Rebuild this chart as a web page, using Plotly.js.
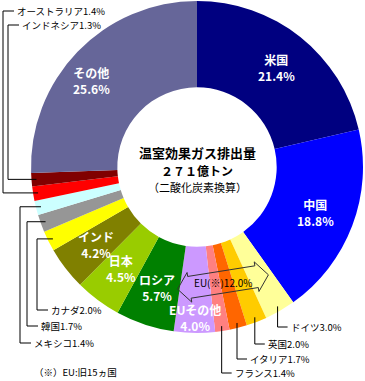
<!DOCTYPE html>
<html><head><meta charset="utf-8">
<script src="https://cdn.plot.ly/plotly-3.0.1.min.js"></script>
<style>html,body{margin:0;padding:0;background:#fff}#chart{width:365px;height:381px}</style>
</head><body><div id="chart"></div>
<script>
// ---- data ----
const countries = ['米国','中国','ドイツ','英国','イタリア','フランス','EUその他','ロシア','日本','インド','カナダ','韓国','メキシコ','オーストラリア','インドネシア','その他'];
const shares = [21.4,18.8,3.0,2.0,1.7,1.4,4.0,5.7,4.5,4.2,2.0,1.7,1.4,1.4,1.3,25.6];
const sliceColors = ['#000080','#0000FF','#FFFF99','#FFCC00','#FF6600','#FF8080','#CC99FF','#008000','#99CC00','#808000','#FFFF00','#969696','#CCFFFF','#FF0000','#800000','#666699'];
const insideLabels = ['米国','中国','その他','インド','日本','ロシア','EUその他'];
const leftLabels = ['カナダ','韓国','メキシコ','オーストラリア','インドネシア'];
const bottomLabels = ['ドイツ','英国','イタリア','フランス'];
const euLabel = 'EU(※)';
const euShare = 12.0;
const centerLines = ['温室効果ガス排出量','２７１億トン','（二酸化炭素換算）'];
const footnote = '（※）EU:旧15ヵ国';

// ---- layout geometry (styling) ----
const W = 365, H = 381, CX = 197, CY = 167, R = 166;
const FONT = '"Noto Sans CJK JP", "Noto Sans", sans-serif';
const px = x => x / W, py = y => 1 - y / H;
const total = shares.reduce((a, b) => a + b, 0);
const cum = []; { let c = 0; shares.forEach(v => { cum.push(c); c += v; }); }
const midAngle = i => (cum[i] + shares[i] / 2) / total * 2 * Math.PI;
const polar = (ang, r) => [CX + r * Math.sin(ang), CY - r * Math.cos(ang)];
const pct = i => shares[i].toFixed(1) + '%';

const inStyle = {'その他': {r: 136, da: -0.08}, 'EUその他': {r: 151, da: 0}};
const leftStyle = {'カナダ': {vx: 37, ly: 310}, '韓国': {vx: 27, ly: 326}, 'メキシコ': {vx: 20, ly: 343}, 'オーストラリア': {vx: 3, ly: 11}, 'インドネシア': {vx: 8, ly: 25}};
const bottomStyle = {'ドイツ': 327, '英国': 344, 'イタリア': 359, 'フランス': 373};

const annotations = [], shapes = [];
const line = (x0, y0, x1, y1) => shapes.push({type: 'line', xref: 'paper', yref: 'paper', x0: px(x0), y0: py(y0), x1: px(x1), y1: py(y1), line: {color: '#000', width: 1}});
const text = (t, x, y, opt) => annotations.push(Object.assign({text: t, x: px(x), y: py(y), xref: 'paper', yref: 'paper', showarrow: false, borderpad: 0, xanchor: 'center', yanchor: 'middle', font: {family: FONT, size: 9.5, color: '#000'}}, opt || {}));

insideLabels.forEach(name => {
  const i = countries.indexOf(name);
  const st = inStyle[name] || {r: 127, da: 0};
  const [x, y] = polar(midAngle(i) + st.da, st.r);
  text('<b>' + name + '<br>' + pct(i) + '</b>', x, y, {font: {family: FONT, size: 12, color: '#fff'}});
});

leftLabels.forEach(name => {
  const i = countries.indexOf(name);
  const [ax, ay] = polar(midAngle(i), R * 0.97);
  const st = leftStyle[name];
  line(ax, ay, st.vx, ay);
  line(st.vx, ay, st.vx, st.ly);
  line(st.vx, st.ly, st.vx + 11, st.ly);
  text(name + pct(i), st.vx + 13, st.ly, {xanchor: 'left'});
});

bottomLabels.forEach(name => {
  const i = countries.indexOf(name);
  const [ax, ay] = polar(midAngle(i), R * 0.97);
  const ly = bottomStyle[name];
  line(ax, ay, ax, ly);
  line(ax, ly, ax + 10, ly);
  text(name + pct(i), ax + 12, ly, {xanchor: 'left'});
});

// EU double arrow
(function () {
  const c = [223, 282], a = 9 * Math.PI / 180;
  const d = [Math.cos(a), -Math.sin(a)], n = [Math.sin(a), Math.cos(a)];
  const pts = [[-46,0],[-34,-15],[-34,-11],[34,-11],[34,-15],[46,0],[34,15],[34,11],[-34,11],[-34,15]];
  const p = pts.map(([u, v]) => [c[0] + u * d[0] + v * n[0], c[1] + u * d[1] + v * n[1]]);
  const path = 'M' + p.map(q => px(q[0]).toFixed(4) + ',' + py(q[1]).toFixed(4)).join('L') + 'Z';
  shapes.push({type: 'path', xref: 'paper', yref: 'paper', path: path, line: {color: '#333', width: 1}, fillcolor: 'rgba(0,0,0,0)', layer: 'above'});
  text(euLabel + euShare.toFixed(1) + '%', c[0], c[1], {font: {family: FONT, size: 10, color: '#000'}});
})();

text('<b>' + centerLines[0] + '</b>', CX, 153, {font: {family: FONT, size: 13, color: '#000'}});
text('<b>' + centerLines[1] + '</b>', CX, 170, {font: {family: FONT, size: 12, color: '#000'}});
text(centerLines[2], CX, 187, {font: {family: FONT, size: 11, color: '#000'}});
text(footnote, 33, 372, {xanchor: 'left'});

const trace = {
  type: 'pie', values: shares, labels: countries, sort: false, direction: 'clockwise', rotation: 0,
  hole: 0.48, marker: {colors: sliceColors, line: {width: 0}}, textinfo: 'none', hoverinfo: 'skip',
  domain: {x: [px(CX - R), px(CX + R)], y: [py(CY + R), py(CY - R)]}
};
Plotly.newPlot('chart', [trace], {
  width: W, height: H, margin: {l: 0, r: 0, t: 0, b: 0}, showlegend: false,
  paper_bgcolor: '#fff', font: {family: FONT}, annotations: annotations, shapes: shapes
}, {staticPlot: true});
</script></body></html>
